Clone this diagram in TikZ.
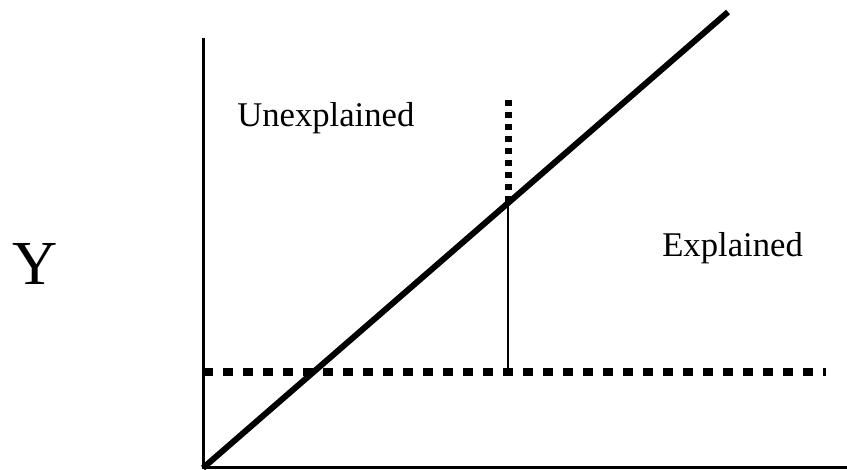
\documentclass[tikz,border=0pt]{standalone}
\usepackage{fontspec}
\setmainfont{Liberation Serif}
\begin{document}
\begin{tikzpicture}[x=0.75pt, y=-0.75pt,
  axis/.style={line width=2.25pt},
  fitline/.style={line width=4.5pt},
  meanline/.style={line width=6pt, dash pattern=on 7.5pt off 7.5pt},
  gapline/.style={line width=5.25pt, dash pattern=on 4.5pt off 4.5pt},
  devline/.style={line width=1.5pt},
  label/.style={font=\fontsize{26}{30}\selectfont, anchor=base west, inner sep=0pt}]
\useasboundingbox (0,0) rectangle (847,470);
% axes
\coordinate (origin) at (203,468);
\coordinate (ytop) at (203,38);
\coordinate (xend) at (847,468);
\draw[axis] (ytop) -- (origin) -- (xend);
% regression line and mean
\coordinate (fitend) at (728,12);
\draw[fitline] (origin) -- (fitend);
\coordinate (meanstart) at (203,372);
\coordinate (meanend) at (826,372);
\draw[meanline] (meanstart) -- (meanend);
% deviation at one point
\coordinate (obs) at (508,100);
\coordinate (fit) at (508,203);
\coordinate (mean) at (508,372);
\draw[gapline] (obs) -- (fit);
\draw[devline] (fit) -- (mean);
\node[label] (unexp) at (237,127) {Unexplained};
\node[label] (exp) at (662,257) {Explained};
\node[label, font=\fontsize{47}{52}\selectfont] (yname) at (12,285) {Y};
\end{tikzpicture}
\end{document}
